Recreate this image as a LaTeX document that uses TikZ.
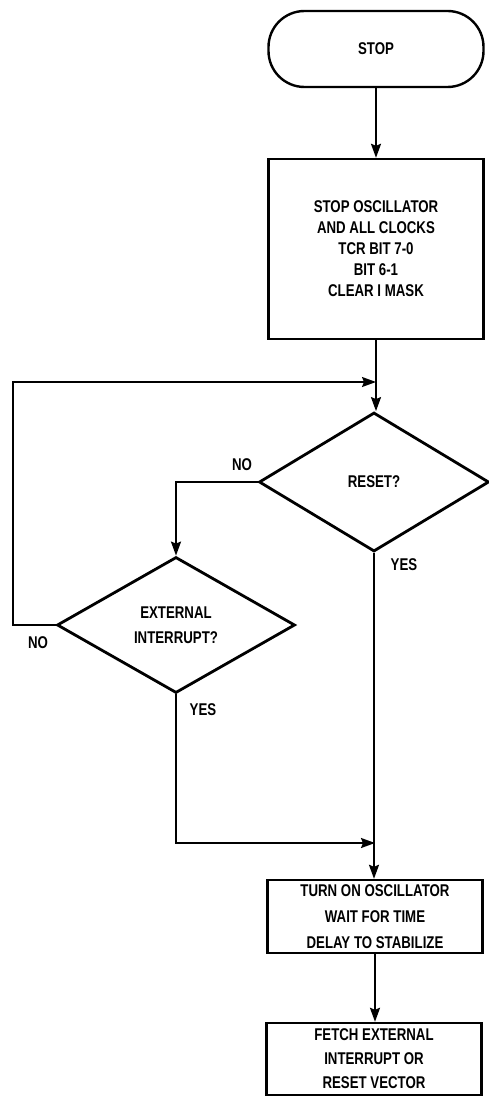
\documentclass[tikz,border=0pt]{standalone}
\usepackage{fontspec}
\setmainfont[FakeStretch=0.78,BoldFont={* Bold}]{Liberation Sans}
\usetikzlibrary{arrows.meta,shapes.geometric}
\begin{document}
\begin{tikzpicture}[x=1pt,y=-1pt,
  txt/.style={font=\fontsize{17}{21}\selectfont\bfseries, align=center},
  procbox/.style={draw, line width=2.4pt, txt, inner sep=0pt, minimum width=215pt},
  decide/.style={draw, diamond, line width=2.8pt, inner sep=0pt, txt},
  flow/.style={line width=2pt, -{Stealth[length=14pt,width=10pt,inset=2pt]}},
  lbl/.style={font=\fontsize{17}{20}\selectfont\bfseries, inner sep=0pt}]
\useasboundingbox (0,0) rectangle (489,1097);

\node[draw, line width=2.4pt, rounded corners=36pt, minimum width=215pt, minimum height=76pt, txt] (stop) at (376,49) {STOP};
\node[procbox, minimum height=180pt] (box1) at (376,249)
  {STOP OSCILLATOR\\AND ALL CLOCKS\\TCR BIT 7-0\\BIT 6-1\\CLEAR I MASK};
\node[decide, minimum width=230pt, minimum height=139pt] (reset) at (374,482) {RESET?};
\node[decide, minimum width=238pt, minimum height=136pt, font=\fontsize{17}{25}\selectfont\bfseries] (ext) at (176,625) {EXTERNAL\\INTERRUPT?};
\node[procbox, minimum height=73pt, font=\fontsize{17}{26}\selectfont\bfseries] (box2) at (375,916.5)
  {TURN ON OSCILLATOR\\WAIT FOR TIME\\DELAY TO STABILIZE};
\node[procbox, minimum height=72pt, font=\fontsize{17}{24}\selectfont\bfseries] (box3) at (374,1059)
  {FETCH EXTERNAL\\INTERRUPT OR\\RESET VECTOR};

\coordinate (j1) at (376,382);
\coordinate (j2) at (375,843);
\coordinate (lx) at (13,0);

\draw[flow] (stop) -- (box1);
\draw[flow] (box1.south) -- (box1.south |- reset.north);
\draw[flow, line width=1.6pt] (ext.west) -- (ext.west -| lx) |- (j1);
\draw[flow] (reset.west) -| (ext.north);
\draw[flow] (reset.south) -- (reset.south |- box2.north);
\draw[flow] (ext.south) |- (j2);
\draw[flow] (box2.south) -- (box2.south |- box3.north);

\node[lbl] (noR) at (242,465) {NO};
\node[lbl] (yesR) at (404,565) {YES};
\node[lbl] (noE) at (38,643) {NO};
\node[lbl] (yesE) at (203,710) {YES};
\end{tikzpicture}
\end{document}
